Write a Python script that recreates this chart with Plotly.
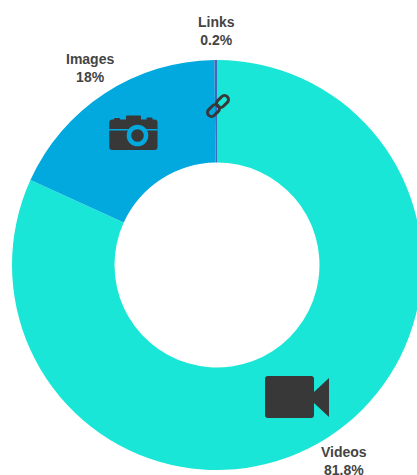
import plotly.graph_objects as go

categories = ["Videos", "Images", "Links"]
shares = [81.8, 18, 0.2]
slice_colors = ["#19e6d6", "#02a9df", "#4268bd"]
label_centers = {"Videos": (344, 461), "Images": (90, 68), "Links": (216, 30.5)}

# The ring hangs a little past the right edge of the page, so the canvas is wider than the window.
W, H = 436, 475
ICON = "#383838"


def px(x):
    return x / W


def py(y):
    return 1 - y / H


def rounded_rect(x0, y0, x1, y1, r):
    return (
        f"M{px(x0 + r)},{py(y0)} L{px(x1 - r)},{py(y0)} Q{px(x1)},{py(y0)} {px(x1)},{py(y0 + r)} "
        f"L{px(x1)},{py(y1 - r)} Q{px(x1)},{py(y1)} {px(x1 - r)},{py(y1)} "
        f"L{px(x0 + r)},{py(y1)} Q{px(x0)},{py(y1)} {px(x0)},{py(y1 - r)} "
        f"L{px(x0)},{py(y0 + r)} Q{px(x0)},{py(y0)} {px(x0 + r)},{py(y0)} Z"
    )


def polygon(points):
    head, *rest = points
    return f"M{px(head[0])},{py(head[1])} " + " ".join(f"L{px(a)},{py(b)}" for a, b in rest) + " Z"


def filled(path, color=ICON):
    return dict(type="path", xref="paper", yref="paper", path=path, fillcolor=color, line_width=0)


def disc(cx, cy, r, color):
    return dict(type="circle", xref="paper", yref="paper", x0=px(cx - r), x1=px(cx + r),
                y0=py(cy + r), y1=py(cy - r), fillcolor=color, line_width=0)


def capsule(cx, cy, half, r):
    # Chain link tilted 45 degrees: a stadium outline built from two cubic end caps.
    ax, ay = 0.7071, -0.7071  # along the link
    nx, ny = 0.7071, 0.7071   # across the link
    k = 0.5523 * r

    def pt(along, across):
        x = cx + ax * along + nx * across
        y = cy + ay * along + ny * across
        return f"{px(x)},{py(y)}"

    path = (
        f"M{pt(half, r)} "
        f"C{pt(half + k, r)} {pt(half + r, k)} {pt(half + r, 0)} "
        f"C{pt(half + r, -k)} {pt(half + k, -r)} {pt(half, -r)} "
        f"L{pt(-half, -r)} "
        f"C{pt(-half - k, -r)} {pt(-half - r, -k)} {pt(-half - r, 0)} "
        f"C{pt(-half - r, k)} {pt(-half - k, r)} {pt(-half, r)} Z"
    )
    return dict(type="path", xref="paper", yref="paper", path=path,
                fillcolor="rgba(0,0,0,0)", line=dict(color=ICON, width=3))


shapes = [
    # camera
    filled(rounded_rect(109.3, 119.5, 157.5, 150, 3)),
    filled(rounded_rect(114, 118, 120, 121, 1)),
    filled(rounded_rect(126, 115.5, 141, 121, 1)),
    filled(rounded_rect(146.5, 117.5, 152.5, 121, 1)),
    filled(polygon([(109.3, 129), (157.5, 129), (157.5, 130.4), (109.3, 130.4)]), "#02a9df"),
    disc(137.5, 135.5, 10.8, "#02a9df"),
    disc(137.5, 135.5, 6.3, ICON),
    # chain link
    capsule(222.5, 101.5, 2.8, 4),
    capsule(213.5, 110.5, 2.8, 4),
    # video camera
    filled(rounded_rect(265, 376, 314, 418, 3)),
    filled(polygon([(314, 392), (329, 378), (329, 417), (314, 403)])),
]

annotations = [
    dict(text=f"<b>{name}</b><br><b>{value}%</b>", xref="paper", yref="paper",
         x=px(label_centers[name][0]), y=py(label_centers[name][1]),
         showarrow=False, align="center", xanchor="center", yanchor="middle",
         font=dict(family="Liberation Sans", size=14, color="#444444"))
    for name, value in zip(categories, shares)
]

fig = go.Figure(go.Pie(
    labels=categories,
    values=shares,
    hole=0.5,
    sort=False,
    direction="clockwise",
    rotation=0,
    textinfo="none",
    marker=dict(colors=slice_colors, line=dict(width=0)),
    domain=dict(x=[12 / W, 422 / W], y=[5 / H, 415 / H]),
))
fig.update_layout(
    width=W, height=H, autosize=False,
    margin=dict(l=0, r=0, t=0, b=0),
    showlegend=False,
    paper_bgcolor="white",
    shapes=shapes,
    annotations=annotations,
)
fig.write_html(
    "out.html",
    config=dict(displayModeBar=False, responsive=False),
    post_script="document.documentElement.style.overflow='hidden';document.body.style.overflow='hidden';document.body.style.margin='0';",
)
